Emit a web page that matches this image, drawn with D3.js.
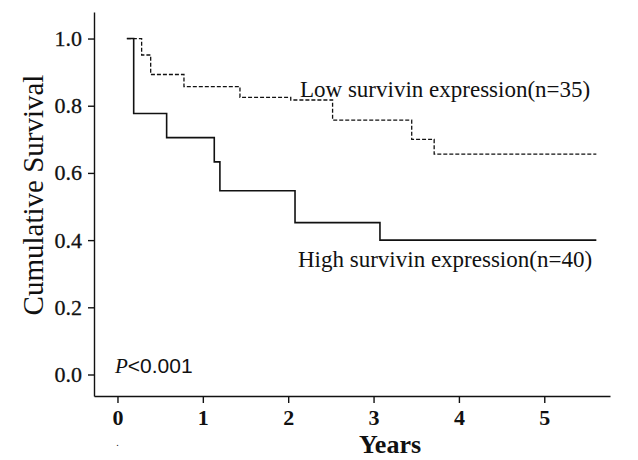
<!DOCTYPE html>
<html><head><meta charset="utf-8">
<script src="https://cdn.jsdelivr.net/npm/d3@7/dist/d3.min.js"></script>
<style>html,body{margin:0;padding:0;background:#fff;}svg{display:block;}</style>
</head><body>
<svg id="chart" width="638" height="460"></svg>
<script>
// ---- data ----
const lowTimes  = [0.11, 0.283, 0.389, 0.779, 1.435, 2.03, 2.52, 3.447, 3.71, 5.61];
const lowSurv   = [1.0, 0.951, 0.893, 0.857, 0.825, 0.817, 0.757, 0.70, 0.656, 0.656];
const highTimes = [0.11, 0.19, 0.576, 1.134, 1.20, 2.08, 3.075, 5.61];
const highSurv  = [1.0, 0.777, 0.705, 0.633, 0.547, 0.452, 0.40, 0.40];
const xTicks = [0, 1, 2, 3, 4, 5];
const yTicks = [0, 0.2, 0.4, 0.6, 0.8, 1.0];
const lowLabel = "Low survivin expression(n=35)";
const highLabel = "High survivin expression(n=40)";
const xTitle = "Years";
const yTitle = "Cumulative Survival";
const pText = "<0.001";

// ---- layout ----
const svg = d3.select("#chart");
const xDom = [-0.275, 5.77], yDom = [-0.064, 1.079];
const x = d3.scaleLinear().domain(xDom).range([94, 610]);
const y = d3.scaleLinear().domain(yDom).range([396, 12]);
const serif = "'Liberation Serif','Times New Roman',serif";
const sans = "'Liberation Sans',Arial,sans-serif";

// axes
const yAxis = d3.axisLeft(y).tickValues(yTicks).tickFormat(d3.format(".1f")).tickSize(6).tickSizeOuter(0).tickPadding(6);
const gy = svg.append("g").attr("transform", `translate(${x(xDom[0])},0)`).call(yAxis);
gy.selectAll("text").attr("font-family", serif).attr("font-size", 22).attr("fill", "#111")
  .attr("stroke", "#111").attr("stroke-width", 0.3);
gy.selectAll("path,line").attr("stroke", "#111").attr("stroke-width", 1.4);

const xAxis = d3.axisBottom(x).tickValues(xTicks).tickFormat(d3.format("d")).tickSize(7).tickSizeOuter(0);
const gx = svg.append("g").attr("transform", `translate(0,${y(yDom[0])})`).call(xAxis);
gx.selectAll("text").attr("font-family", serif).attr("font-size", 22).attr("font-weight", "bold")
  .attr("fill", "#111").attr("dy", null).attr("y", 29);
gx.selectAll("path,line").attr("stroke", "#111").attr("stroke-width", 1.4);

// curves
const line = d3.line().x(d => x(d[0])).y(d => y(d[1])).curve(d3.curveStepAfter);
svg.append("path").datum(d3.zip(lowTimes, lowSurv)).attr("d", line)
  .attr("fill", "none").attr("stroke", "#111").attr("stroke-width", 1.3).attr("stroke-dasharray", "4,2");
svg.append("path").datum(d3.zip(highTimes, highSurv)).attr("d", line)
  .attr("fill", "none").attr("stroke", "#111").attr("stroke-width", 1.6);

// labels
svg.append("text").attr("x", 300).attr("y", 97).attr("font-family", serif).attr("font-size", 23)
  .attr("fill", "#111").text(lowLabel);
svg.append("text").attr("x", 298).attr("y", 267).attr("font-family", serif).attr("font-size", 23)
  .attr("fill", "#111").text(highLabel);

const pt = svg.append("text").attr("x", 115).attr("y", 373).attr("font-family", sans).attr("font-size", 21).attr("fill", "#111");
pt.append("tspan").attr("font-family", serif).attr("font-style", "italic").text("P");
pt.append("tspan").text(pText);

svg.append("text").attr("x", 390).attr("y", 453).attr("text-anchor", "middle")
  .attr("font-family", serif).attr("font-size", 26).attr("font-weight", "bold").attr("fill", "#111").text(xTitle);
svg.append("text").attr("transform", "translate(43,195) rotate(-90)").attr("text-anchor", "middle")
  .attr("font-family", serif).attr("font-size", 29).attr("fill", "#111").text(yTitle);
svg.append("text").attr("x", x(0)).attr("y", 446).attr("text-anchor", "middle")
  .attr("font-family", serif).attr("font-size", 10).attr("fill", "#111").text(".");
</script>
</body></html>
